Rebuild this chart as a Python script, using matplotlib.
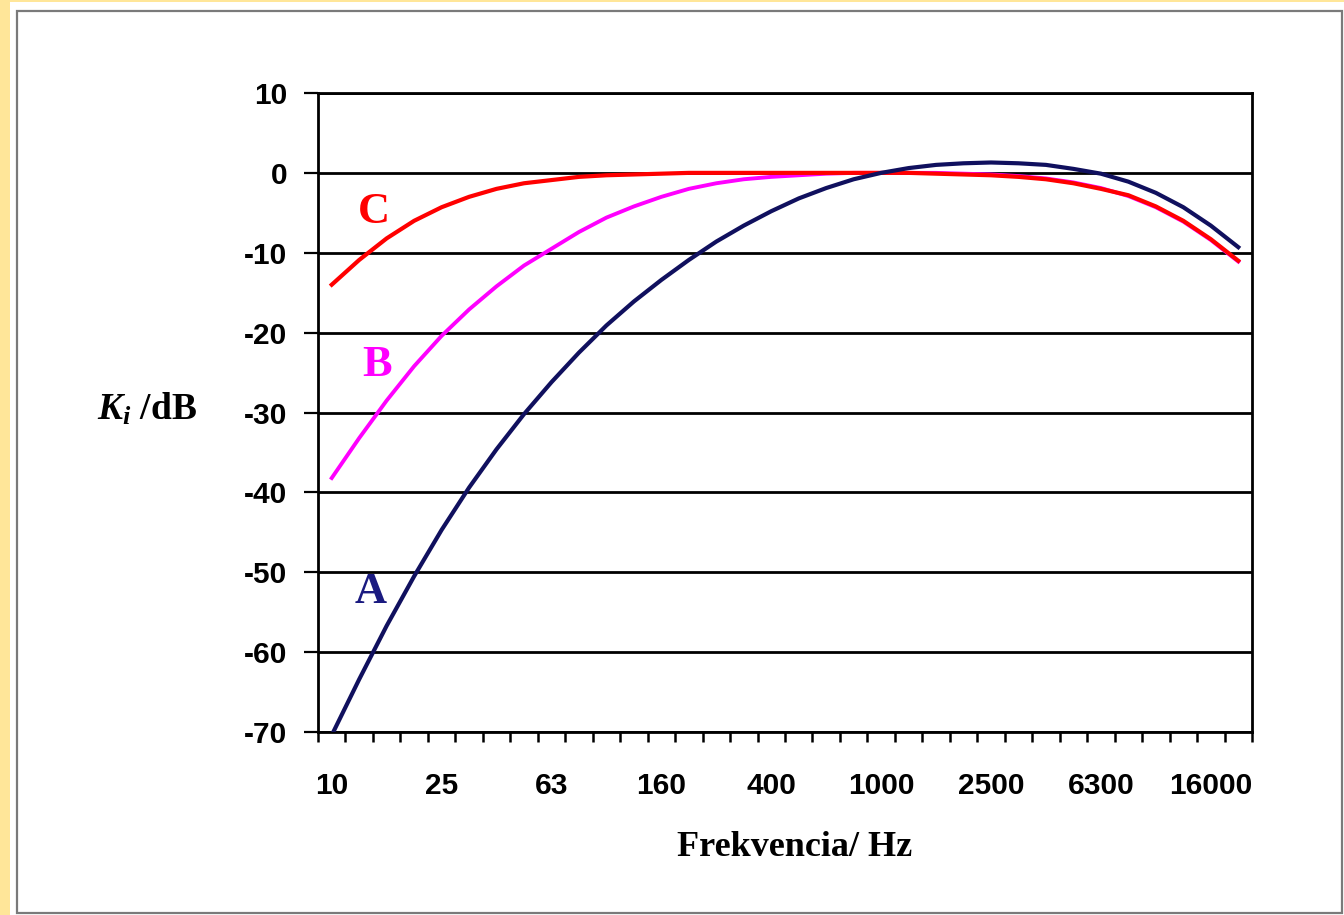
import matplotlib
matplotlib.use("Agg")
import matplotlib.pyplot as plt
from matplotlib.patches import Rectangle

plt.rcParams['mathtext.fontset'] = 'custom'
plt.rcParams['mathtext.rm'] = 'Liberation Serif:bold'
plt.rcParams['mathtext.it'] = 'Liberation Serif:italic:bold'

# third-octave bands, Hz
bands = ['10', '12.5', '16', '20', '25', '31.5', '40', '50', '63', '80',
         '100', '125', '160', '200', '250', '315', '400', '500', '630', '800',
         '1000', '1250', '1600', '2000', '2500', '3150', '4000', '5000', '6300', '8000',
         '10000', '12500', '16000', '20000']
shown_labels = ['10', '25', '63', '160', '400', '1000', '2500', '6300', '16000']

curve_a = [-70.4, -63.4, -56.7, -50.5, -44.7, -39.4, -34.6, -30.2, -26.2, -22.5,
           -19.1, -16.1, -13.4, -10.9, -8.6, -6.6, -4.8, -3.2, -1.9, -0.8,
           0.0, 0.6, 1.0, 1.2, 1.3, 1.2, 1.0, 0.5, -0.1, -1.1,
           -2.5, -4.3, -6.6, -9.3]
curve_b = [-38.2, -33.2, -28.5, -24.2, -20.4, -17.1, -14.2, -11.6, -9.5, -7.4,
           -5.6, -4.2, -3.0, -2.0, -1.3, -0.8, -0.5, -0.3, -0.1, 0.0,
           0.0, 0.0, 0.0, -0.1, -0.2, -0.4, -0.7, -1.2, -1.9, -2.9,
           -4.3, -6.1, -8.4, -11.1]
curve_c = [-14.0, -10.9, -8.2, -6.0, -4.3, -3.0, -2.0, -1.3, -0.9, -0.5,
           -0.3, -0.2, -0.1, 0.0, 0.0, 0.0, 0.0, 0.0, 0.0, 0.0,
           0.0, 0.0, -0.1, -0.2, -0.3, -0.5, -0.8, -1.3, -2.0, -2.8,
           -4.2, -6.0, -8.3, -11.0]
y_ticks = [10, 0, -10, -20, -30, -40, -50, -60, -70]

navy = '#10105e'
W, H = 1344, 915
fig = plt.figure(figsize=(W / 100, H / 100), dpi=100, facecolor='white')

# yellow page strip and grey frame
fig.patches.append(Rectangle((0, 0), 10 / W, 1, transform=fig.transFigure,
                             facecolor='#ffe699', edgecolor='none'))
fig.patches.append(Rectangle((0, 1 - 2 / H), 1, 2 / H, transform=fig.transFigure,
                             facecolor='#ffe699', edgecolor='none'))
fig.patches.append(Rectangle((17 / W, 2 / H), 1325 / W, 902 / H, transform=fig.transFigure,
                             facecolor='none', edgecolor='#7a7a7a', linewidth=1.6))

ax = fig.add_axes([318 / W, 1 - 732 / H, 934 / W, 639 / H])
x = list(range(len(bands)))
ax.plot(x, curve_b, color='#ff00ff', lw=2.8, zorder=3)
ax.plot(x, curve_c, color='#ff0000', lw=3.0, zorder=4)
ax.plot(x, curve_a, color=navy, lw=3.0, zorder=5)

ax.set_xlim(-0.5, len(bands) - 0.5)
ax.set_ylim(-70, 10)
for v in y_ticks:
    ax.axhline(v, color='black', lw=2.0, zorder=2)
for s in ax.spines.values():
    s.set_linewidth(2.0)

ax.set_yticks(y_ticks)
ax.set_yticklabels([str(v) for v in y_ticks])
ax.tick_params(axis='y', direction='out', length=10, width=1.6, pad=12)

ax.set_xticks([i - 0.5 for i in range(len(bands) + 1)])
ax.set_xticklabels([])
ax.tick_params(axis='x', which='major', direction='out', length=7.5, width=1.8)
label_pos = [bands.index(b) for b in shown_labels]
ax.set_xticks(label_pos, minor=True)
ax.set_xticklabels(shown_labels, minor=True)
ax.tick_params(axis='x', which='minor', length=0, pad=29)

for lab in ax.get_yticklabels() + ax.get_xticklabels(minor=True):
    lab.set_fontfamily('Liberation Sans')
    lab.set_fontweight('bold')
    lab.set_fontsize(21.5)

serif = 'Liberation Serif'
ax.text(1.54, -4.9, 'C', color='#ff0000', fontsize=32, family=serif,
        weight='bold', ha='center', va='center')
ax.text(1.65, -24.0, 'B', color='#ff00ff', fontsize=32, family=serif,
        weight='bold', ha='center', va='center')
ax.text(1.43, -52.5, 'A', color='#1a1a80', fontsize=32, family=serif,
        weight='bold', ha='center', va='center')

fig.text(795 / W, 1 - 848 / H, 'Frekvencia/ Hz', fontsize=26, family=serif,
         weight='bold', ha='center', va='center')
fig.text(147 / W, 1 - 409 / H, r'$K_i$ /dB', fontsize=27, family=serif,
         weight='bold', ha='center', va='center')

fig.savefig('out.png', dpi=100, facecolor='white')
